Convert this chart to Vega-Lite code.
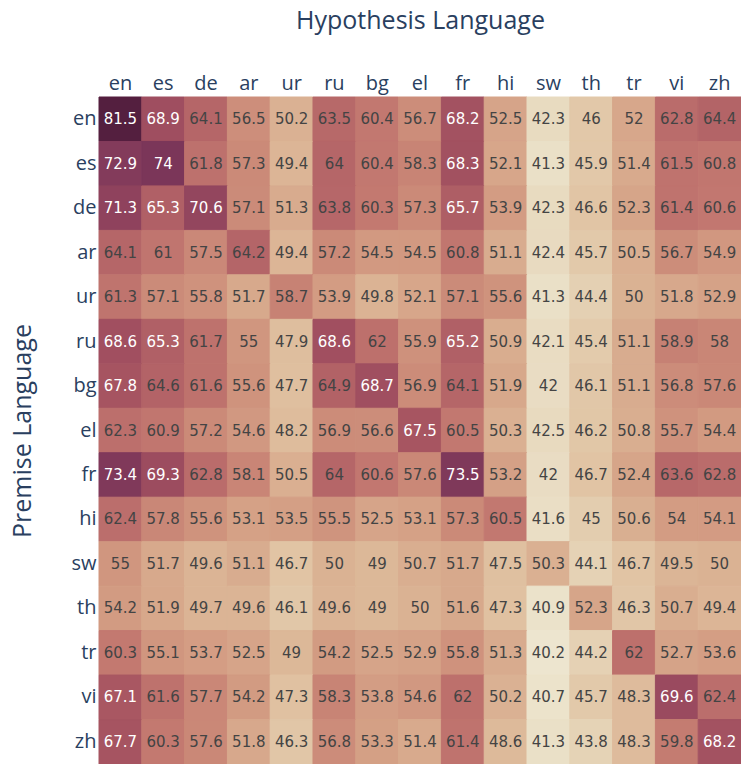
{
  "$schema": "https://vega.github.io/schema/vega-lite/v6.json",
  "width": 642,
  "height": 667,
  "autosize": {"type": "none"},
  "padding": {"left": 99, "top": 97, "right": 0, "bottom": 0},
  "background": "white",
  "config": {"view": {"stroke": null}},
  "data": {"values": [
{"p":"en","h":"en","v":81.5},{"p":"en","h":"es","v":68.9},{"p":"en","h":"de","v":64.1},{"p":"en","h":"ar","v":56.5},{"p":"en","h":"ur","v":50.2},{"p":"en","h":"ru","v":63.5},{"p":"en","h":"bg","v":60.4},{"p":"en","h":"el","v":56.7},{"p":"en","h":"fr","v":68.2},{"p":"en","h":"hi","v":52.5},{"p":"en","h":"sw","v":42.3},{"p":"en","h":"th","v":46},{"p":"en","h":"tr","v":52},{"p":"en","h":"vi","v":62.8},{"p":"en","h":"zh","v":64.4},
{"p":"es","h":"en","v":72.9},{"p":"es","h":"es","v":74},{"p":"es","h":"de","v":61.8},{"p":"es","h":"ar","v":57.3},{"p":"es","h":"ur","v":49.4},{"p":"es","h":"ru","v":64},{"p":"es","h":"bg","v":60.4},{"p":"es","h":"el","v":58.3},{"p":"es","h":"fr","v":68.3},{"p":"es","h":"hi","v":52.1},{"p":"es","h":"sw","v":41.3},{"p":"es","h":"th","v":45.9},{"p":"es","h":"tr","v":51.4},{"p":"es","h":"vi","v":61.5},{"p":"es","h":"zh","v":60.8},
{"p":"de","h":"en","v":71.3},{"p":"de","h":"es","v":65.3},{"p":"de","h":"de","v":70.6},{"p":"de","h":"ar","v":57.1},{"p":"de","h":"ur","v":51.3},{"p":"de","h":"ru","v":63.8},{"p":"de","h":"bg","v":60.3},{"p":"de","h":"el","v":57.3},{"p":"de","h":"fr","v":65.7},{"p":"de","h":"hi","v":53.9},{"p":"de","h":"sw","v":42.3},{"p":"de","h":"th","v":46.6},{"p":"de","h":"tr","v":52.3},{"p":"de","h":"vi","v":61.4},{"p":"de","h":"zh","v":60.6},
{"p":"ar","h":"en","v":64.1},{"p":"ar","h":"es","v":61},{"p":"ar","h":"de","v":57.5},{"p":"ar","h":"ar","v":64.2},{"p":"ar","h":"ur","v":49.4},{"p":"ar","h":"ru","v":57.2},{"p":"ar","h":"bg","v":54.5},{"p":"ar","h":"el","v":54.5},{"p":"ar","h":"fr","v":60.8},{"p":"ar","h":"hi","v":51.1},{"p":"ar","h":"sw","v":42.4},{"p":"ar","h":"th","v":45.7},{"p":"ar","h":"tr","v":50.5},{"p":"ar","h":"vi","v":56.7},{"p":"ar","h":"zh","v":54.9},
{"p":"ur","h":"en","v":61.3},{"p":"ur","h":"es","v":57.1},{"p":"ur","h":"de","v":55.8},{"p":"ur","h":"ar","v":51.7},{"p":"ur","h":"ur","v":58.7},{"p":"ur","h":"ru","v":53.9},{"p":"ur","h":"bg","v":49.8},{"p":"ur","h":"el","v":52.1},{"p":"ur","h":"fr","v":57.1},{"p":"ur","h":"hi","v":55.6},{"p":"ur","h":"sw","v":41.3},{"p":"ur","h":"th","v":44.4},{"p":"ur","h":"tr","v":50},{"p":"ur","h":"vi","v":51.8},{"p":"ur","h":"zh","v":52.9},
{"p":"ru","h":"en","v":68.6},{"p":"ru","h":"es","v":65.3},{"p":"ru","h":"de","v":61.7},{"p":"ru","h":"ar","v":55},{"p":"ru","h":"ur","v":47.9},{"p":"ru","h":"ru","v":68.6},{"p":"ru","h":"bg","v":62},{"p":"ru","h":"el","v":55.9},{"p":"ru","h":"fr","v":65.2},{"p":"ru","h":"hi","v":50.9},{"p":"ru","h":"sw","v":42.1},{"p":"ru","h":"th","v":45.4},{"p":"ru","h":"tr","v":51.1},{"p":"ru","h":"vi","v":58.9},{"p":"ru","h":"zh","v":58},
{"p":"bg","h":"en","v":67.8},{"p":"bg","h":"es","v":64.6},{"p":"bg","h":"de","v":61.6},{"p":"bg","h":"ar","v":55.6},{"p":"bg","h":"ur","v":47.7},{"p":"bg","h":"ru","v":64.9},{"p":"bg","h":"bg","v":68.7},{"p":"bg","h":"el","v":56.9},{"p":"bg","h":"fr","v":64.1},{"p":"bg","h":"hi","v":51.9},{"p":"bg","h":"sw","v":42},{"p":"bg","h":"th","v":46.1},{"p":"bg","h":"tr","v":51.1},{"p":"bg","h":"vi","v":56.8},{"p":"bg","h":"zh","v":57.6},
{"p":"el","h":"en","v":62.3},{"p":"el","h":"es","v":60.9},{"p":"el","h":"de","v":57.2},{"p":"el","h":"ar","v":54.6},{"p":"el","h":"ur","v":48.2},{"p":"el","h":"ru","v":56.9},{"p":"el","h":"bg","v":56.6},{"p":"el","h":"el","v":67.5},{"p":"el","h":"fr","v":60.5},{"p":"el","h":"hi","v":50.3},{"p":"el","h":"sw","v":42.5},{"p":"el","h":"th","v":46.2},{"p":"el","h":"tr","v":50.8},{"p":"el","h":"vi","v":55.7},{"p":"el","h":"zh","v":54.4},
{"p":"fr","h":"en","v":73.4},{"p":"fr","h":"es","v":69.3},{"p":"fr","h":"de","v":62.8},{"p":"fr","h":"ar","v":58.1},{"p":"fr","h":"ur","v":50.5},{"p":"fr","h":"ru","v":64},{"p":"fr","h":"bg","v":60.6},{"p":"fr","h":"el","v":57.6},{"p":"fr","h":"fr","v":73.5},{"p":"fr","h":"hi","v":53.2},{"p":"fr","h":"sw","v":42},{"p":"fr","h":"th","v":46.7},{"p":"fr","h":"tr","v":52.4},{"p":"fr","h":"vi","v":63.6},{"p":"fr","h":"zh","v":62.8},
{"p":"hi","h":"en","v":62.4},{"p":"hi","h":"es","v":57.8},{"p":"hi","h":"de","v":55.6},{"p":"hi","h":"ar","v":53.1},{"p":"hi","h":"ur","v":53.5},{"p":"hi","h":"ru","v":55.5},{"p":"hi","h":"bg","v":52.5},{"p":"hi","h":"el","v":53.1},{"p":"hi","h":"fr","v":57.3},{"p":"hi","h":"hi","v":60.5},{"p":"hi","h":"sw","v":41.6},{"p":"hi","h":"th","v":45},{"p":"hi","h":"tr","v":50.6},{"p":"hi","h":"vi","v":54},{"p":"hi","h":"zh","v":54.1},
{"p":"sw","h":"en","v":55},{"p":"sw","h":"es","v":51.7},{"p":"sw","h":"de","v":49.6},{"p":"sw","h":"ar","v":51.1},{"p":"sw","h":"ur","v":46.7},{"p":"sw","h":"ru","v":50},{"p":"sw","h":"bg","v":49},{"p":"sw","h":"el","v":50.7},{"p":"sw","h":"fr","v":51.7},{"p":"sw","h":"hi","v":47.5},{"p":"sw","h":"sw","v":50.3},{"p":"sw","h":"th","v":44.1},{"p":"sw","h":"tr","v":46.7},{"p":"sw","h":"vi","v":49.5},{"p":"sw","h":"zh","v":50},
{"p":"th","h":"en","v":54.2},{"p":"th","h":"es","v":51.9},{"p":"th","h":"de","v":49.7},{"p":"th","h":"ar","v":49.6},{"p":"th","h":"ur","v":46.1},{"p":"th","h":"ru","v":49.6},{"p":"th","h":"bg","v":49},{"p":"th","h":"el","v":50},{"p":"th","h":"fr","v":51.6},{"p":"th","h":"hi","v":47.3},{"p":"th","h":"sw","v":40.9},{"p":"th","h":"th","v":52.3},{"p":"th","h":"tr","v":46.3},{"p":"th","h":"vi","v":50.7},{"p":"th","h":"zh","v":49.4},
{"p":"tr","h":"en","v":60.3},{"p":"tr","h":"es","v":55.1},{"p":"tr","h":"de","v":53.7},{"p":"tr","h":"ar","v":52.5},{"p":"tr","h":"ur","v":49},{"p":"tr","h":"ru","v":54.2},{"p":"tr","h":"bg","v":52.5},{"p":"tr","h":"el","v":52.9},{"p":"tr","h":"fr","v":55.8},{"p":"tr","h":"hi","v":51.3},{"p":"tr","h":"sw","v":40.2},{"p":"tr","h":"th","v":44.2},{"p":"tr","h":"tr","v":62},{"p":"tr","h":"vi","v":52.7},{"p":"tr","h":"zh","v":53.6},
{"p":"vi","h":"en","v":67.1},{"p":"vi","h":"es","v":61.6},{"p":"vi","h":"de","v":57.7},{"p":"vi","h":"ar","v":54.2},{"p":"vi","h":"ur","v":47.3},{"p":"vi","h":"ru","v":58.3},{"p":"vi","h":"bg","v":53.8},{"p":"vi","h":"el","v":54.6},{"p":"vi","h":"fr","v":62},{"p":"vi","h":"hi","v":50.2},{"p":"vi","h":"sw","v":40.7},{"p":"vi","h":"th","v":45.7},{"p":"vi","h":"tr","v":48.3},{"p":"vi","h":"vi","v":69.6},{"p":"vi","h":"zh","v":62.4},
{"p":"zh","h":"en","v":67.7},{"p":"zh","h":"es","v":60.3},{"p":"zh","h":"de","v":57.6},{"p":"zh","h":"ar","v":51.8},{"p":"zh","h":"ur","v":46.3},{"p":"zh","h":"ru","v":56.8},{"p":"zh","h":"bg","v":53.3},{"p":"zh","h":"el","v":51.4},{"p":"zh","h":"fr","v":61.4},{"p":"zh","h":"hi","v":48.6},{"p":"zh","h":"sw","v":41.3},{"p":"zh","h":"th","v":43.8},{"p":"zh","h":"tr","v":48.3},{"p":"zh","h":"vi","v":59.8},{"p":"zh","h":"zh","v":68.2}
  ]},
  "encoding": {
    "x": {"field": "h", "type": "nominal", "sort": ["en","es","de","ar","ur","ru","bg","el","fr","hi","sw","th","tr","vi","zh"],
      "scale": {"paddingInner": 0, "paddingOuter": 0},
      "axis": {"orient": "top", "title": "Hypothesis Language", "labelAngle": 0, "labelFontSize": 20, "labelFont": "Open Sans", "labelColor": "#2a3f5f", "labelPadding": 4, "ticks": false, "domain": false, "titleFont": "Open Sans", "titleFontSize": 25, "titleFontWeight": "normal", "titleColor": "#2a3f5f", "titlePadding": 40}},
    "y": {"field": "p", "type": "nominal", "sort": ["en","es","de","ar","ur","ru","bg","el","fr","hi","sw","th","tr","vi","zh"],
      "scale": {"paddingInner": 0, "paddingOuter": 0},
      "axis": {"title": "Premise Language", "labelFontSize": 20, "labelFont": "Open Sans", "labelColor": "#2a3f5f", "labelPadding": 3, "ticks": false, "domain": false, "titleFont": "Open Sans", "titleFontSize": 25, "titleFontWeight": "normal", "titleColor": "#2a3f5f", "titlePadding": 35}}
  },
  "layer": [
    {"mark": {"type": "rect", "strokeWidth": 1},
     "encoding": {
       "color": {"field": "v", "type": "quantitative", "legend": null,
         "scale": {"domain": [40.2, 81.5], "range": ["rgb(237,229,207)","rgb(224,194,162)","rgb(211,156,131)","rgb(193,118,111)","rgb(166,84,97)","rgb(119,52,88)","rgb(84,31,63)"]}},
       "stroke": {"field": "v", "type": "quantitative", "legend": null,
         "scale": {"domain": [40.2, 81.5], "range": ["rgb(237,229,207)","rgb(224,194,162)","rgb(211,156,131)","rgb(193,118,111)","rgb(166,84,97)","rgb(119,52,88)","rgb(84,31,63)"]}}}},
    {"mark": {"type": "text", "font": "DejaVu Sans", "fontSize": 15},
     "encoding": {"text": {"field": "v", "type": "quantitative"},
       "color": {"condition": {"test": "datum.v > 65", "value": "white"}, "value": "rgb(68,68,68)"}}}
  ]
}
